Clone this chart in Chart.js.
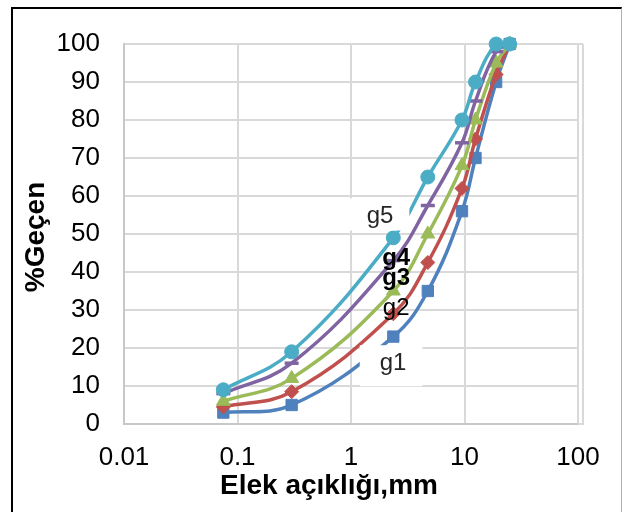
<!DOCTYPE html>
<html>
<head>
<meta charset="utf-8">
<script src="https://cdn.jsdelivr.net/npm/chart.js@4"></script>
<style>
  html, body { margin: 0; padding: 0; width: 622px; height: 512px; overflow: hidden; background: #fff; }
  #frame { position: absolute; left: 11px; top: 7px; width: 608px; height: 600px;
           border-left: 2px solid #000; border-top: 2px solid #000; border-right: 1px solid #b0b0b0; }
  #wrap { position: absolute; left: 0; top: 0; width: 622px; height: 512px; }
</style>
</head>
<body>
<div id="frame"></div>
<div id="wrap"><canvas id="c" width="622" height="512"></canvas></div>
<script>
// ---- data ----
const sieveSizes = [0.075, 0.3, 2.36, 4.75, 9.5, 12.5, 19, 25];
const g1 = [3, 5, 23, 35, 56, 70, 90, 100];
const g2 = [4.5, 8.5, 29, 42.5, 62, 75, 92, 100];
const g3 = [6, 12, 35, 50, 68, 80, 95, 100];
const g4 = [8, 16, 43, 57.5, 74, 85, 98, 100];
const g5 = [9, 19, 49, 65, 80, 90, 100, 100];
const seriesNames = ['g1', 'g2', 'g3', 'g4', 'g5'];
const xTicks = [0.01, 0.1, 1, 10, 100];
const xTickLabels = ['0.01', '0.1', '1', '10', '100'];
const xTitle = 'Elek açıklığı,mm';
const yTitle = '%Geçen';
// series label anchors (data space)
const labelX = [2.35, 2.5, 2.5, 2.5, 1.8];
const labelY = [16, 30.3, 38.2, 43.7, 54.6];

const colors = ['#4F81BD', '#C0504D', '#9BBB59', '#8064A2', '#4BACC6'];
const styles = ['rect', 'rectRot', 'triangle', 'line', 'circle'];
const radii = [8, 7, 8, 7, 7];
const labelFonts = ['24px "Liberation Sans", Arial', '24px "Liberation Sans", Arial',
                    'bold 24px "Liberation Sans", Arial', 'bold 24px "Liberation Sans", Arial',
                    '24px "Liberation Sans", Arial'];
const labelColors = ['#262626', '#000', '#000', '#000', '#262626'];
const labelBoxed = [true, false, false, false, true];

const allSeries = [g1, g2, g3, g4, g5];
const datasets = allSeries.map((vals, i) => ({
  label: seriesNames[i],
  data: sieveSizes.map((x, j) => ({ x: x, y: vals[j] })),
  borderColor: colors[i],
  backgroundColor: colors[i],
  borderWidth: 3.5,
  tension: 0.4,
  pointStyle: styles[i],
  pointRadius: radii[i],
  pointBorderWidth: i === 3 ? 3.5 : 1,
  pointBorderColor: colors[i],
  pointBackgroundColor: colors[i],
  clip: false,
  order: 4 - i
}));

const annot = {
  id: 'annot',
  afterDatasetsDraw(chart) {
    const ctx = chart.ctx;
    const xs = chart.scales.x, ys = chart.scales.y;
    ctx.save();
    // right border of plot area
    ctx.strokeStyle = '#d9d9d9';
    ctx.lineWidth = 2;
    ctx.beginPath();
    ctx.moveTo(chart.chartArea.right, chart.chartArea.top);
    ctx.lineTo(chart.chartArea.right + 5, chart.chartArea.top);
    ctx.moveTo(chart.chartArea.right + 5, chart.chartArea.top);
    ctx.lineTo(chart.chartArea.right + 5, chart.chartArea.bottom);
    ctx.lineTo(chart.chartArea.right, chart.chartArea.bottom);
    ctx.stroke();
    // series labels
    ctx.textAlign = 'center';
    ctx.textBaseline = 'middle';
    seriesNames.forEach((name, i) => {
      const px = xs.getPixelForValue(labelX[i]);
      const py = ys.getPixelForValue(labelY[i]);
      ctx.font = labelFonts[i];
      if (labelBoxed[i]) {
        const w = ctx.measureText(name).width;
        ctx.fillStyle = '#fff';
        ctx.fillRect(px - w / 2 - 20, py - 18, w + 36, i === 0 ? 41 : 32);
      }
      ctx.fillStyle = labelColors[i];
      ctx.fillText(name, px, py);
    });
    // axis titles
    ctx.fillStyle = '#000';
    ctx.font = 'bold 28px "Liberation Sans", Arial';
    ctx.fillText(xTitle, (chart.chartArea.left + chart.chartArea.right) / 2 - 22, 486);
    ctx.translate(36, (chart.chartArea.top + chart.chartArea.bottom) / 2 + 3);
    ctx.rotate(-Math.PI / 2);
    ctx.fillText(yTitle, 0, 0);
    ctx.restore();
  }
};

new Chart(document.getElementById('c'), {
  type: 'line',
  data: { datasets: datasets },
  plugins: [annot],
  options: {
    responsive: false,
    animation: false,
    events: [],
    layout: { padding: { left: 0, top: 44, right: 44, bottom: 0 } },
    plugins: { legend: { display: false }, tooltip: { enabled: false } },
    scales: {
      x: {
        type: 'logarithmic',
        min: 0.01,
        max: 100,
        afterBuildTicks: (s) => { s.ticks = xTicks.map(v => ({ value: v })); },
        afterFit: (s) => { s.height = 88; },
        ticks: {
          autoSkip: false,
          maxRotation: 0,
          padding: 18,
          color: '#000',
          font: { family: '"Liberation Sans", Arial', size: 26 },
          callback: (v) => { const k = xTicks.indexOf(v); return k >= 0 ? xTickLabels[k] : ''; }
        },
        grid: { color: '#d9d9d9', lineWidth: 2, drawTicks: false },
        border: { color: '#c8c8c8', width: 2 }
      },
      y: {
        min: 0,
        max: 100,
        afterFit: (s) => { s.width = 124; },
        ticks: {
          stepSize: 10,
          padding: 24,
          color: '#000',
          font: { family: '"Liberation Sans", Arial', size: 26 }
        },
        grid: { color: '#d9d9d9', lineWidth: 2, drawTicks: false },
        border: { color: '#c8c8c8', width: 2 }
      }
    }
  }
});
</script>
</body>
</html>
